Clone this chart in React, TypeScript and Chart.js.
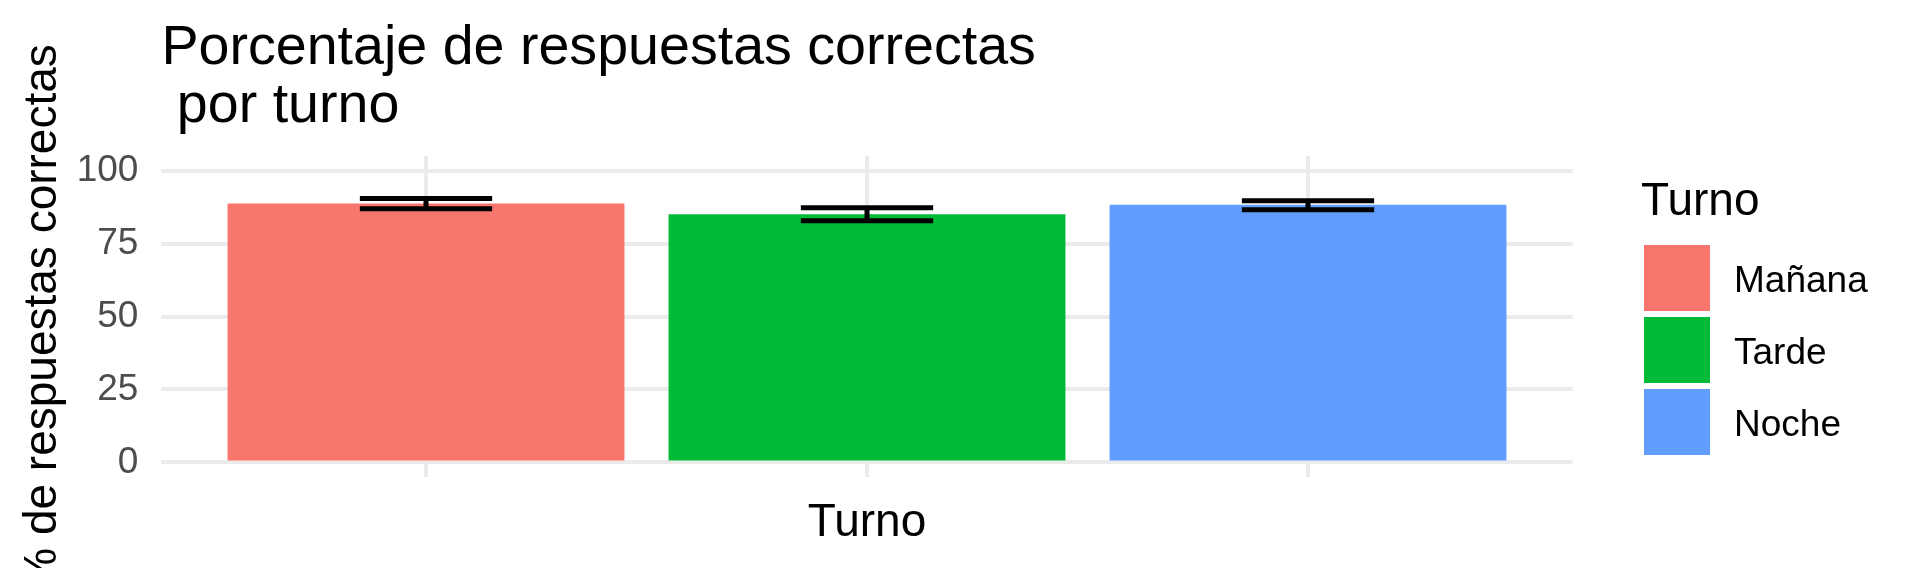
import React, { useEffect, useRef } from 'react';
import { Chart, registerables } from 'chart.js';

Chart.register(...registerables);

// ---- Data ----
const categories = ['Mañana', 'Tarde', 'Noche'];
const positions = [1, 2, 3];
const means = [88.7, 85.0, 88.3];
const lowers = [86.9, 82.8, 86.6];
const uppers = [90.4, 87.3, 89.7];
const colors = ['#F8766D', '#00BA38', '#619CFF'];
const yMajorTicks = [0, 25, 50, 75, 100];
const yMinorTicks = [12.5, 37.5, 62.5, 87.5];
const titleLines = ['Porcentaje de respuestas correctas', ' por turno'];
const xTitle = 'Turno';
const yTitle = '% de respuestas correctas';
const legendTitle = 'Turno';

const FONT = "'Liberation Sans', Arial, Helvetica, sans-serif";
const GRID = '#EBEBEB';

const errorBarPlugin = {
  id: 'errorBars',
  afterDatasetsDraw(chart: any) {
    const { ctx } = chart;
    const xs = chart.scales.x;
    const ys = chart.scales.y;
    ctx.save();
    ctx.strokeStyle = '#000000';
    ctx.lineWidth = 5;
    ctx.lineCap = 'butt';
    positions.forEach((p, i) => {
      const cx = xs.getPixelForValue(p);
      const hw = xs.getPixelForValue(p + 0.15) - cx;
      const yl = ys.getPixelForValue(lowers[i]);
      const yh = ys.getPixelForValue(uppers[i]);
      ctx.beginPath();
      ctx.moveTo(cx, yh);
      ctx.lineTo(cx, yl);
      ctx.moveTo(cx - hw, yh);
      ctx.lineTo(cx + hw, yh);
      ctx.moveTo(cx - hw, yl);
      ctx.lineTo(cx + hw, yl);
      ctx.stroke();
    });
    ctx.restore();
  },
};

const textPlugin = {
  id: 'ggText',
  afterDraw(chart: any) {
    const { ctx, chartArea } = chart;
    ctx.save();
    ctx.fillStyle = '#000000';
    // Title
    ctx.font = `55.6px ${FONT}`;
    ctx.textAlign = 'left';
    ctx.textBaseline = 'alphabetic';
    titleLines.forEach((line, i) => {
      ctx.fillText(line, chartArea.left, 64 + i * 58);
    });
    // X axis title
    ctx.font = `46px ${FONT}`;
    ctx.textAlign = 'center';
    ctx.fillText(xTitle, (chartArea.left + chartArea.right) / 2, 536);
    // Y axis title
    ctx.save();
    ctx.translate(56, (chartArea.top + chartArea.bottom) / 2);
    ctx.rotate(-Math.PI / 2);
    ctx.textAlign = 'center';
    ctx.fillText(yTitle, 0, 0);
    ctx.restore();
    // Legend
    ctx.textAlign = 'left';
    ctx.font = `46px ${FONT}`;
    ctx.fillText(legendTitle, 1641, 215);
    ctx.font = `37px ${FONT}`;
    categories.forEach((c, i) => {
      const top = 245 + i * 72;
      ctx.fillStyle = colors[i];
      ctx.fillRect(1644, top, 66, 66);
      ctx.fillStyle = '#000000';
      ctx.fillText(c, 1734, top + 33 + 14);
    });
    ctx.restore();
  },
};

export default function App() {
  const ref = useRef<HTMLCanvasElement | null>(null);
  useEffect(() => {
    document.body.style.margin = '0';
    const canvas = ref.current;
    if (!canvas) return;
    const chart = new Chart(canvas, {
      type: 'bar',
      data: {
        datasets: [
          {
            label: 'Turno',
            data: positions.map((p, i) => ({ x: p, y: means[i] })),
            backgroundColor: colors,
            borderWidth: 0,
            barPercentage: 0.9,
            categoryPercentage: 1.0,
          },
        ],
      },
      options: {
        responsive: false,
        animation: false,
        devicePixelRatio: 1,
        layout: { padding: { left: 0, top: 156, right: 342.4, bottom: 91 } },
        plugins: {
          legend: { display: false },
          title: { display: false },
          tooltip: { enabled: false },
        },
        scales: {
          x: {
            type: 'linear',
            min: 0.4,
            max: 3.6,
            offset: false,
            afterBuildTicks(scale: any) {
              scale.ticks = positions.map((v) => ({ value: v }));
            },
            ticks: { display: false },
            grid: { color: GRID, lineWidth: 4, drawTicks: false, offset: false },
            border: { display: false },
          },
          y: {
            min: -5,
            max: 105,
            afterBuildTicks(scale: any) {
              scale.ticks = [...yMajorTicks, ...yMinorTicks]
                .sort((a, b) => a - b)
                .map((v) => ({ value: v }));
            },
            afterFit(scale: any) {
              scale.width = 161.4;
            },
            ticks: {
              padding: 23,
              color: '#4D4D4D',
              font: { family: FONT, size: 37 },
              callback: (v: any) => (yMajorTicks.includes(Number(v)) ? String(v) : ''),
            },
            grid: {
              color: GRID,
              drawTicks: false,
              lineWidth: (c: any) => (c.tick && yMajorTicks.includes(c.tick.value) ? 4 : 2),
            },
            border: { display: false },
          },
        },
      },
      plugins: [errorBarPlugin, textPlugin],
    });
    return () => chart.destroy();
  }, []);
  return (
    <div style={{ width: 1915, height: 568, background: '#ffffff' }}>
      <canvas ref={ref} width={1915} height={568} style={{ display: 'block' }} />
    </div>
  );
}
